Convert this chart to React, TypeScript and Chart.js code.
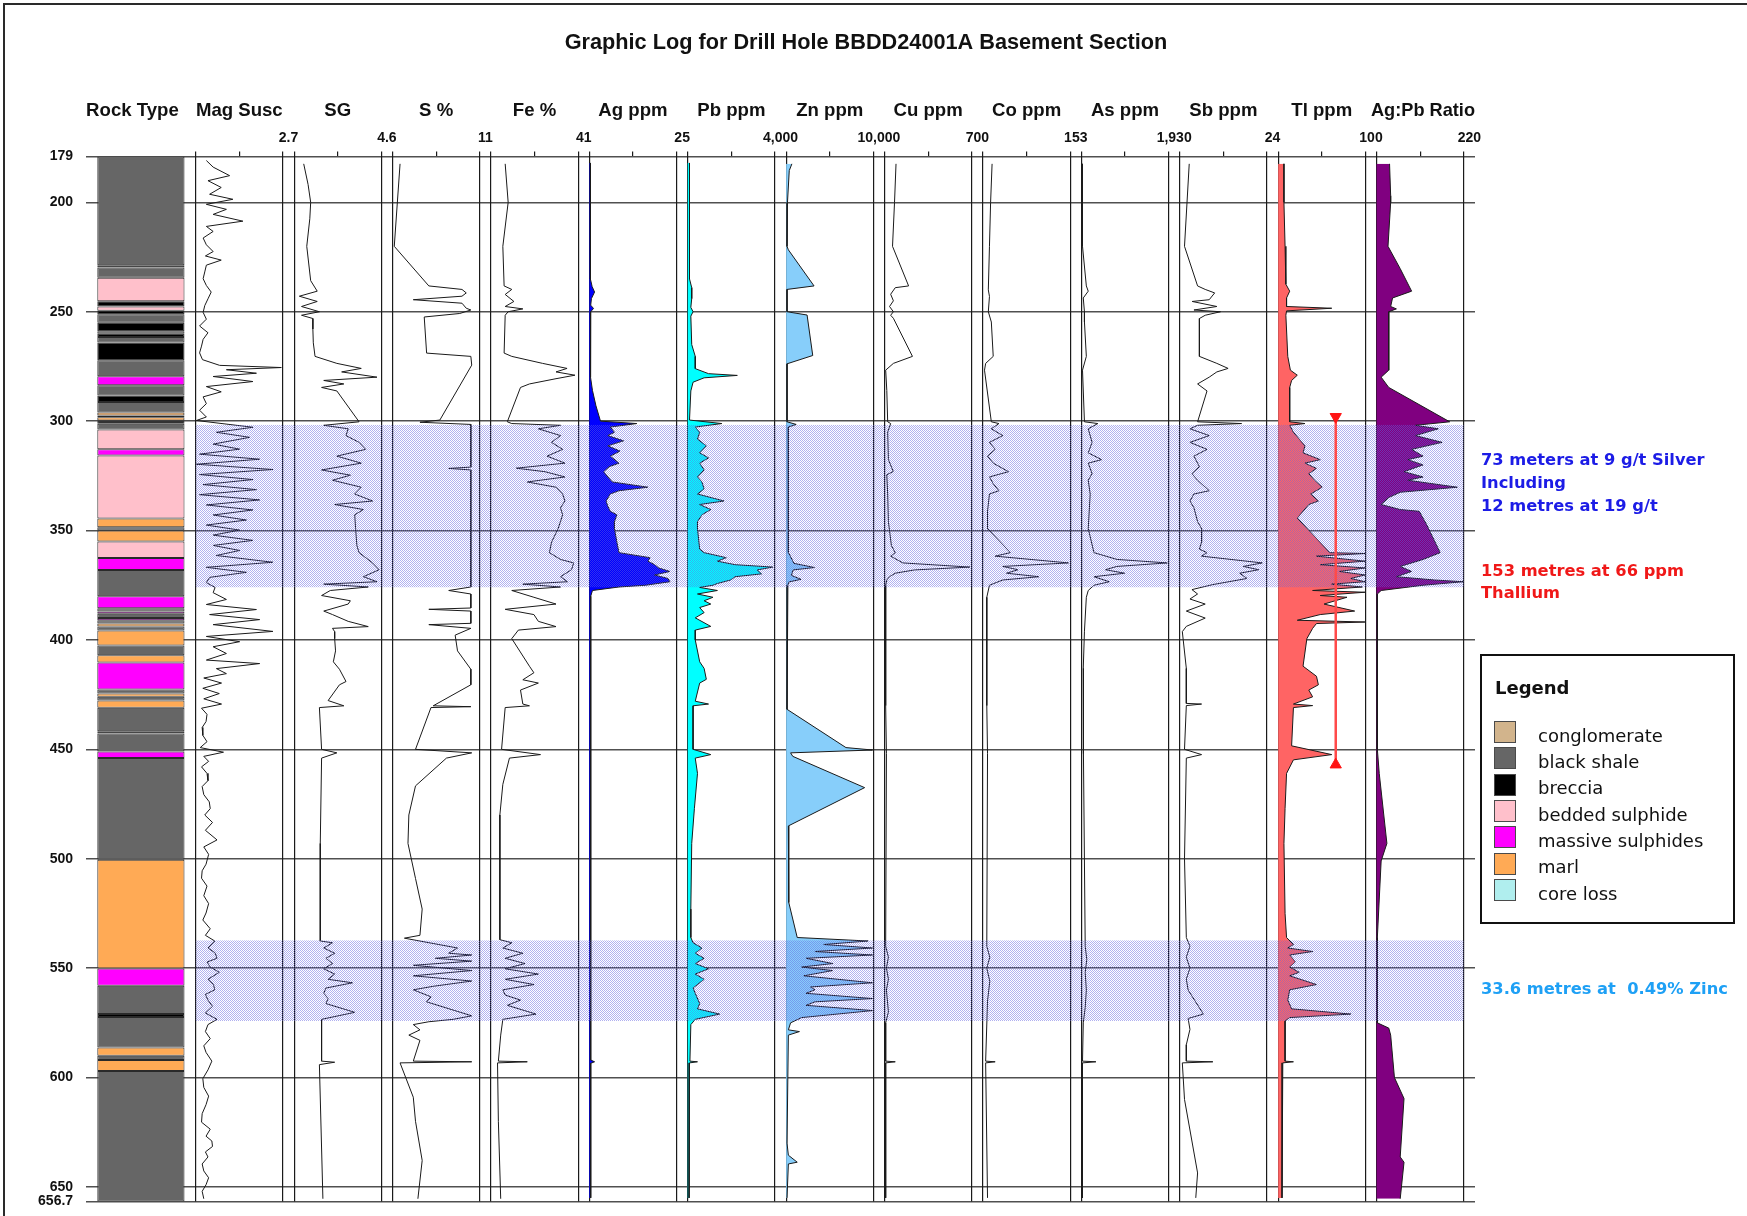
import React, { useEffect, useRef } from 'react';
import { Chart, registerables } from 'chart.js';

Chart.register(...registerables);

type Pair = [number, number];

// ---------------- depth axis ----------------
const DEPTH_TOP = 179;
const DEPTH_BOTTOM = 656.7;
const DEPTH_TICKS = [179, 200, 250, 300, 350, 400, 450, 500, 550, 600, 650, 656.7];

const CHART_TITLE = 'Graphic Log for Drill Hole BBDD24001A Basement Section';

// ---------------- track definitions ----------------
const TRACK_IDS = ['magSusc', 'sg', 'sPct', 'fePct', 'agPpm', 'pbPpm', 'znPpm', 'cuPpm', 'coPpm', 'asPpm', 'sbPpm', 'tlPpm', 'agPbRatio'];
const TRACK_TITLES = ['Mag Susc', 'SG', 'S %', 'Fe %', 'Ag ppm', 'Pb ppm', 'Zn ppm', 'Cu ppm', 'Co ppm', 'As ppm', 'Sb ppm', 'Tl ppm', 'Ag:Pb Ratio'];
const TRACK_MIN = [0, 2.6, 0, 0, 0, 0, 0, 0, 0, 0, 0, 0, 0];
const TRACK_MAX = [2.7, 4.6, 11, 41, 25, 4000, 10000, 700, 153, 1930, 24, 100, 220];
const TRACK_TICK_LABELS = ['2.7', '4.6', '11', '41', '25', '4,000', '10,000', '700', '153', '1,930', '24', '100', '220'];

// ---------------- rock types (depth intervals) ----------------
const ROCK_NAMES = ['conglomerate', 'black shale', 'breccia', 'bedded sulphide', 'massive sulphides', 'marl', 'core loss'];
const CONGLOMERATE: Pair[] = [];
const BLACK_SHALE: Pair[] = [[179, 228.8], [229.8, 234.5], [251.2, 255], [258.9, 260], [261.5, 264], [272.2, 279.5], [283.6, 288.3], [291.2, 296], [297.4, 298.2], [301.2, 303.8], [348.5, 350], [368, 380], [385.5, 387], [388, 390], [391, 392.5], [393.8, 395.7], [402.5, 407], [422.6, 424.5], [426, 427.7], [431, 441.7], [442.8, 451], [454, 500.5], [558, 571], [572.3, 586.3], [590, 592], [597, 656.7]];
const BRECCIA: Pair[] = [[228.8, 229.8], [245.2, 247.6], [249.5, 251.2], [255, 258.9], [260, 261.5], [264, 272.2], [288.3, 291.2], [299.7, 301.2], [441.7, 442.8], [571, 572.3]];
const BEDDED_SULPHIDE: Pair[] = [[234.5, 245.2], [247.6, 249.5], [303.8, 312.9], [315.7, 344.5], [355, 362.5]];
const MASSIVE_SULPHIDES: Pair[] = [[279.5, 283.6], [312.9, 315.7], [362.5, 368], [380, 385.5], [387, 388], [390, 391], [410.3, 422.6], [451, 454], [550.2, 558]];
const MARL: Pair[] = [[296, 297.4], [298.2, 299.7], [344.5, 348.5], [350, 355], [392.5, 393.8], [395.7, 402.5], [407, 410.3], [424.5, 426], [427.7, 431], [500.5, 550.2], [586.3, 590], [592, 597]];
const CORE_LOSS: Pair[] = [];

// ---------------- mineralised zones ----------------
const SILVER_ZONE: Pair = [301.6, 376];
const ZINC_ZONE: Pair = [537.3, 574.2];
const TL_ZONE: Pair = [298, 457];
const TL_ZONE_GRADE = 66;
const SILVER_NOTE = ['73 meters at 9 g/t Silver', 'Including', '12 metres at 19 g/t'];
const TL_NOTE = ['153 metres at 66 ppm', 'Thallium'];
const ZINC_NOTE = ['33.6 metres at  0.49% Zinc'];

// ---------------- series: [depth, value] ----------------
const MAG_SUSC: Pair[] = [[180.9, 0.33], [183.9, 0.54], [187.8, 1.05], [190.1, 0.38], [193.2, 0.79], [196.3, 0.43], [198.6, 1.15], [200.9, 0.33], [203.2, 0.95], [205.5, 0.54], [208.6, 1.46], [211, 0.33], [213.3, 0.54], [216.3, 0.23], [219.4, 0.33], [222.5, 0.54], [224.5, 0.3], [226.4, 0.79], [228.7, 0.33], [231.8, 0.28], [234.9, 0.23], [238, 0.33], [241, 0.48], [244.1, 0.38], [247.2, 0.28], [250.3, 0.23], [253.4, 0.33], [256.5, 0.12], [259.6, 0.38], [262.6, 0.23], [265.7, 0.18], [268.8, 0.12], [271.9, 0.21], [274.5, 0.74], [275.5, 2.65], [276.5, 0.95], [278.1, 1.88], [279.6, 0.54], [281.9, 1.77], [284.2, 0.33], [286.6, 0.79], [288.9, 0.23], [292, 0.33], [295, 0.12], [298.1, 0.33], [299.7, 0.02], [302.8, 1.77], [305.1, 0.64], [307.4, 1.67], [310.5, 0.54], [312.8, 1.36], [315.1, 0.12], [317.4, 1.98], [319.7, 0.02], [322.1, 2.39], [324.4, 0.12], [326.7, 1.77], [329, 0.23], [331.3, 1.88], [333.6, 0.12], [336, 1.98], [338.3, 0.33], [340.6, 1.77], [342.9, 0.54], [345.2, 1.57], [347.5, 0.33], [349.8, 1.36], [352.1, 0.54], [354.5, 1.77], [356.8, 0.54], [359.1, 1.36], [361.4, 0.64], [364.5, 2.39], [366.8, 0.33], [369.1, 1.57], [371.4, 0.43], [373.8, 0.33], [376, 0.6], [378.4, 0.54], [381.5, 0.95], [383.8, 0.33], [386.1, 1.88], [388.4, 0.43], [390.7, 1.98], [393, 0.54], [396.1, 2.39], [398.4, 0.33], [400.8, 1.36], [403.1, 0.54], [406.2, 0.95], [409.2, 0.33], [410.8, 1.98], [413.1, 0.64], [415.4, 0.95], [417.4, 0.25], [419.7, 0.8], [422.1, 0.22], [424.5, 0.73], [426.9, 0.25], [429.3, 0.8], [431.2, 0.18], [434, 0.35], [437.3, 0.32], [440, 0.2], [443.6, 0.22], [446.5, 0.35], [449.2, 0.14], [451.3, 0.86], [453.2, 0.25], [455.5, 0.4], [458, 0.18], [461, 0.35], [464.3, 0.38], [467, 0.2], [470.7, 0.25], [474, 0.42], [477.1, 0.45], [480, 0.28], [483.4, 0.52], [487, 0.3], [491.4, 0.66], [494.6, 0.25], [498, 0.4], [502.5, 0.32], [505.5, 0.2], [508.9, 0.18], [512.5, 0.35], [516.9, 0.25], [520.5, 0.4], [524.8, 0.32], [528, 0.22], [532, 0.45], [535, 0.3], [537.6, 0.59], [540.8, 0.38], [543, 0.6], [545.5, 0.66], [547.2, 0.35], [549.5, 0.45], [551.9, 0.73], [555.1, 0.38], [557.5, 0.55], [559.9, 0.59], [562, 0.3], [564.6, 0.38], [567.5, 0.52], [570.5, 0.3], [573.4, 0.66], [575.8, 0.38], [579, 0.3], [582.2, 0.45], [585.5, 0.25], [588.5, 0.32], [592.5, 0.5], [596.5, 0.38], [600.5, 0.22], [604.5, 0.25], [608.5, 0.4], [612.4, 0.32], [616.5, 0.2], [620.4, 0.18], [623.6, 0.45], [626.8, 0.32], [629, 0.5], [631.5, 0.52], [634, 0.3], [636.3, 0.38], [639.5, 0.2], [642.7, 0.25], [645.8, 0.4], [649, 0.32], [652, 0.2], [655.4, 0.25]];

const SG: Pair[] = [[182.4, 2.82], [191.8, 2.92], [200, 2.98], [207.5, 2.96], [220.1, 2.89], [235.8, 2.98], [240.6, 3.13], [242.9, 2.72], [245.3, 3.13], [247.6, 2.77], [250, 3.18], [251.6, 2.77], [253.1, 3.03], [257.9, 3.03], [264.2, 3.04], [270.4, 3.08], [273.6, 3.58], [275.9, 4.14], [277.5, 3.69], [279.9, 4.5], [281.4, 3.28], [283, 3.74], [284.6, 3.23], [286.2, 3.58], [300.3, 4.09], [301.9, 3.28], [303.5, 3.84], [306.6, 3.79], [309.7, 4.09], [312.9, 4.24], [316, 3.58], [319.2, 4.14], [322.3, 3.23], [324.7, 3.89], [327, 3.48], [330.2, 4.14], [333.3, 3.99], [336.5, 4.4], [338.1, 3.53], [340.4, 4.19], [342.8, 3.99], [349.1, 4.01], [356.9, 4.04], [360.1, 4.09], [364.8, 4.4], [367.9, 4.55], [371.1, 4.19], [373.4, 4.5], [374.5, 3.28], [375.8, 4.3], [377.4, 3.43], [379.7, 3.23], [382.1, 3.89], [383.6, 3.84], [386.8, 3.28], [388.4, 3.48], [391.5, 3.84], [393.9, 4.3], [394.7, 3.48], [396.2, 3.53], [399.4, 3.53], [405, 3.55], [410, 3.5], [413.4, 3.64], [419, 3.79], [420.5, 3.64], [427.7, 3.38], [430.1, 3.74], [430.9, 3.18], [450, 3.23], [451.6, 3.58], [454, 3.23], [493, 3.2], [537.6, 3.2], [538.4, 3.48], [540.8, 3.28], [543.2, 3.53], [545.5, 3.33], [547.9, 3.48], [550.3, 3.28], [552.7, 3.53], [555.1, 3.38], [556.7, 3.94], [559.1, 3.33], [561.5, 3.28], [563.9, 3.38], [566.2, 3.33], [570.2, 3.99], [573.4, 3.23], [592.5, 3.23], [593, 3.53], [594.1, 3.18], [655.4, 3.26]];

const S_PCT: Pair[] = [[182.4, 0.95], [220.1, 0.22], [238.2, 4.58], [239.8, 8.76], [241.4, 9.3], [242.9, 8.76], [244.5, 2.62], [246.1, 8.76], [248.4, 9.3], [249.2, 9.88], [250.8, 8.48], [252.4, 4.0], [268.9, 4.3], [270.4, 9.88], [274.4, 9.99], [299.5, 5.97], [300.5, 3.46], [301.5, 9.88], [321, 9.88], [321.6, 7.09], [322.3, 9.88], [375.8, 9.88], [377.4, 7.09], [379, 9.88], [385.4, 9.88], [386, 4.58], [386.8, 9.88], [392.4, 9.88], [393, 4.58], [394.7, 9.88], [397.8, 7.9], [405, 8.2], [413.4, 9.88], [420.5, 9.88], [430.1, 5.13], [430.5, 9.88], [430.9, 4.85], [450, 2.9], [451.6, 9.99], [454, 6.8], [466.7, 2.9], [480, 2.06], [493, 1.95], [509, 2.9], [523, 3.74], [535, 3.46], [536.3, 1.5], [540.8, 8.2], [543.2, 7.09], [544, 9.99], [545.5, 5.41], [546.8, 9.99], [548.7, 2.62], [551.1, 9.99], [553.5, 2.62], [555.9, 9.99], [558.3, 5.13], [559.9, 2.62], [563.1, 4.85], [565.4, 4.3], [571.8, 9.99], [573.4, 7.64], [574.5, 4.58], [575.8, 2.62], [578.2, 3.46], [580.6, 2.06], [583, 3.46], [592.5, 2.62], [592.8, 9.99], [593.3, 0.95], [609, 2.62], [620, 2.9], [637.9, 3.74], [655.4, 3.2]];

const FE_PCT: Pair[] = [[182.4, 6.7], [200, 8.1], [220.1, 5.6], [238.2, 6.2], [239.8, 9.8], [242.1, 6.7], [245.3, 10.8], [247.6, 6.7], [248.7, 15], [250, 8.1], [251.6, 6.7], [268.9, 6.2], [270.4, 9.8], [273.6, 24.3], [275.9, 35.8], [277.5, 30.6], [279, 39.5], [280.6, 30.6], [283, 18.1], [284.6, 13.9], [300.3, 7.7], [301.1, 9.8], [301.9, 32.7], [303.5, 22.3], [306.6, 32.7], [309.7, 28.5], [312.9, 33.7], [316, 26.4], [319.2, 34.8], [321.5, 11.9], [323.1, 25.4], [325.5, 34.8], [327.8, 17.1], [330.2, 30.6], [333.3, 33.7], [336.5, 34.8], [339.6, 32.7], [342.8, 33.7], [345.9, 32.7], [349.1, 31.6], [355.3, 28.5], [360.1, 27.5], [363.2, 32.7], [364.8, 38.9], [367.9, 37.9], [371.1, 32.7], [373.4, 36], [374.5, 15], [375.8, 32.7], [377.4, 9.8], [380.5, 20.2], [383.6, 30.6], [386, 6.7], [388.4, 20.2], [391.5, 22.3], [393.9, 30.6], [395.5, 12.9], [399.4, 9.8], [412, 18.1], [415, 20.2], [418.2, 15], [419.7, 22.3], [422.9, 13.9], [429.3, 15], [430.1, 18.1], [430.9, 6.7], [450, 5], [452.4, 23.3], [454, 8.7], [466, 5.6], [480, 4.2], [537, 4.2], [538.4, 9.8], [540.8, 5.6], [543.2, 15], [545.5, 6.7], [547.9, 16], [550.3, 6.7], [552.7, 22.3], [555.1, 6.7], [557.5, 20.2], [559.9, 5.6], [562.3, 6.7], [564.6, 13.9], [567, 7.7], [571, 21.2], [573.4, 5.6], [580.6, 4.6], [592.5, 3.5], [592.8, 17.1], [593.3, 3.1], [620, 3.5], [655.4, 4.6]];

const AG_PPM: Pair[] = [[182, 0.3], [235, 0.3], [238.5, 0.8], [241, 1.5], [244, 0.6], [247, 0.4], [248.5, 1.2], [250, 0.4], [270, 0.3], [280, 0.4], [286, 0.9], [293, 1.9], [300, 3.2], [301.1, 13.6], [302.7, 6], [305.1, 7.2], [306.6, 5.3], [309, 9.8], [311.3, 5.3], [313.7, 8.8], [316, 6], [319.2, 8.5], [320.8, 5.7], [323.1, 4.1], [325.5, 5.3], [327.8, 6.6], [330.2, 16.8], [331.8, 8.5], [333.3, 6], [336.5, 4.8], [338.9, 5.3], [341.2, 6], [342.8, 7.9], [346, 7.2], [349.1, 7.2], [355.3, 7.9], [360.1, 8.5], [362.4, 17.4], [364, 16.8], [365.6, 18.7], [367.1, 19.9], [368.7, 23.1], [370.3, 18.7], [371.9, 22.5], [373.4, 23.1], [375, 16.1], [375.8, 8.5], [377.4, 0.9], [380, 0.4], [592, 0.4], [592.8, 1.5], [593.5, 0.4], [655, 0.4]];

const PB_PPM: Pair[] = [[182, 81], [235, 81], [239, 183], [244, 183], [248, 142], [250, 244], [252, 142], [265, 183], [270.4, 345], [276, 345], [278.3, 954], [279.1, 2274], [280.2, 751], [282.2, 244], [286.2, 142], [299.5, 81], [301.1, 1563], [302.7, 345], [305.1, 548], [308.2, 447], [311.3, 853], [314.5, 548], [316.8, 954], [319.2, 548], [322.3, 751], [325.5, 447], [327.8, 650], [331, 751], [333.3, 447], [336.5, 1665], [338.1, 548], [340.4, 1056], [342.8, 650], [346, 447], [349.1, 447], [358.5, 548], [360.1, 751], [362.4, 1766], [364, 1360], [365.6, 2172], [366.7, 3898], [368, 3187], [369.8, 3390], [371.1, 2172], [372.6, 1969], [374.2, 1360], [375, 1157], [376, 548], [377.4, 1360], [379, 447], [380.5, 1157], [382.1, 751], [383.6, 1056], [385.2, 548], [387.5, 751], [389.9, 345], [393.8, 1056], [395.5, 345], [400, 345], [410, 548], [413, 751], [418, 853], [419.7, 548], [428, 345], [429.3, 954], [430.1, 244], [450, 244], [452.4, 1056], [454, 345], [461, 447], [477, 305], [493, 183], [523, 142], [536, 142], [538.4, 244], [540.8, 650], [543.2, 345], [545.5, 751], [547.9, 345], [550.3, 954], [552.7, 345], [555.1, 751], [557.5, 447], [559, 244], [561.5, 345], [566.2, 548], [568.6, 447], [571, 1462], [573.4, 345], [575.8, 142], [592.5, 100], [592.8, 447], [593.3, 81], [655, 61]];

const ZN_PPM: Pair[] = [[182.4, 660], [185.5, 356], [200, 152], [220.1, 100], [221.7, 254], [238.2, 3200], [239.8, 100], [250, 100], [251.5, 2400], [270, 3050], [273.8, 100], [300.3, 100], [301.5, 1150], [302.7, 254], [360, 254], [365, 900], [366.9, 3240], [368, 800], [370.5, 600], [372.3, 1700], [373.5, 300], [375, 200], [413, 100], [431.7, 100], [449.2, 6858], [450.3, 9900], [451.6, 508], [453.2, 762], [467.5, 9000], [485, 254], [520, 300], [536, 1270], [537.6, 9400], [539.2, 4318], [540.8, 9900], [542.4, 3302], [544, 9900], [545.5, 2286], [547.9, 5334], [549.5, 1778], [551.1, 5334], [553.5, 2032], [556.7, 9900], [558.6, 2794], [559.9, 3302], [561.5, 2286], [563.9, 9900], [565.4, 3302], [567, 2286], [569.4, 9900], [572.6, 1778], [575, 508], [578.2, 254], [579, 1524], [580.6, 254], [630, 100], [635.5, 254], [638.7, 1270], [639.5, 254], [655, 100]];

const CU_PPM: Pair[] = [[182.4, 92], [200, 80], [220.1, 64], [238.2, 193], [239, 86], [242, 49], [245, 71], [247.6, 40], [250, 71], [251.6, 49], [253, 71], [254.7, 86], [270.4, 224], [273.6, 71], [276.7, 9], [286, 18], [300.3, 25], [301.1, 49], [305, 25], [317.6, 31], [323, 70], [324.5, 18], [333.3, 25], [346, 31], [356.9, 55], [360.1, 86], [361.7, 49], [364.8, 147], [366.7, 685], [368, 240], [369.5, 86], [371.1, 40], [372.6, 18], [375, 9], [400, 9], [430, 9], [452, 15], [540, 9], [545, 31], [550, 15], [555, 31], [560, 15], [570, 31], [575, 9], [592.5, 9], [592.8, 86], [593.3, 9], [655, 9]];

const CO_PPM: Pair[] = [[182.4, 16], [200, 13.4], [220.1, 11.4], [240, 9.4], [243, 11.4], [250, 9.4], [254.7, 14.7], [270.4, 18], [273.6, 4.7], [276.7, 2.7], [300.3, 14.7], [301.1, 28], [303.5, 14.7], [306.6, 34.7], [309.7, 11.4], [312.9, 21.4], [316, 8], [319.2, 18], [323.1, 44.8], [325.5, 11.4], [328.6, 18], [331.8, 28], [333.3, 11.4], [341.2, 8], [349.1, 8], [360.1, 48.1], [361.7, 21.4], [364.8, 150], [366.4, 34.7], [367.9, 61.5], [369.5, 41.4], [371.1, 98.2], [372.6, 34.7], [375, 11.4], [380.5, 6.7], [413, 6.7], [430, 6.7], [452, 8], [540, 6.7], [545, 12], [550, 6.7], [556, 12], [565, 8], [592.5, 4.7], [592.8, 21.4], [593.3, 4.7], [655, 8]];

const AS_PPM: Pair[] = [[182.4, 17], [220.1, 25], [238.2, 110], [240.6, 152], [243.7, 42], [250, 68], [254.7, 68], [270.4, 110], [276.7, 25], [300.3, 68], [301.1, 364], [303.5, 152], [309.7, 237], [314.5, 152], [317.6, 448], [319.2, 152], [324, 237], [327, 152], [333.3, 195], [339.6, 178], [349.1, 152], [360.1, 279], [363.2, 787], [364.8, 1900], [366.4, 787], [367.9, 533], [369.5, 956], [371.1, 279], [373.4, 617], [375, 279], [377.4, 152], [380.5, 110], [396, 68], [413, 42], [430, 42], [452, 50], [540, 85], [546, 120], [552, 85], [560, 110], [568, 85], [575, 42], [592.5, 25], [592.8, 321], [593.3, 25], [655, 25]];

const SB_PPM: Pair[] = [[182.4, 2.6], [220.1, 1.3], [238.2, 4.9], [239.8, 7], [241.4, 9.6], [244.5, 8.1], [245.3, 3.4], [247.6, 10.2], [249.2, 3.9], [250, 11.2], [251.6, 7], [253.1, 5.4], [270.4, 5.4], [273.6, 10.2], [275.9, 13.3], [277.5, 10.2], [279.9, 8.1], [283, 4.9], [286.2, 7.5], [300.3, 4.9], [301.1, 17], [301.9, 4.9], [303.5, 2.8], [306.6, 8.1], [309.7, 2.8], [312.9, 7.5], [316, 3.9], [320.8, 5.4], [324, 3.35], [327, 4.9], [331.8, 8.1], [333.3, 3.9], [336.5, 2.8], [339.6, 3.9], [345.9, 4.9], [349.1, 6], [355.3, 6], [358.5, 5.4], [360.1, 7.5], [361.7, 6], [364.8, 22.7], [366.4, 17.5], [367.9, 21.7], [369.5, 16.5], [371.9, 18.5], [374.7, 9.1], [377, 3.35], [379, 4.9], [381.3, 2.8], [383.6, 7], [386.8, 1.8], [390, 7], [393.8, 1.8], [396.2, 0.7], [413, 1.8], [429, 1.8], [429.3, 6], [430, 1.8], [450, 1.3], [452.4, 6], [454, 1.8], [500, 1.3], [536, 1.8], [540, 2.8], [545, 1.8], [550, 2.8], [555, 1.8], [560, 2.3], [571, 6.5], [573, 2.3], [578, 2.8], [585, 1.8], [592.5, 1.8], [592.8, 9.1], [593.3, 0.7], [610, 1.3], [643.6, 4.9], [655, 4.4]];

const TL_PPM: Pair[] = [[182.4, 6.6], [200, 6.6], [220.1, 7.9], [237.4, 8.8], [240.6, 13.2], [243.7, 9.6], [247.6, 9.6], [248.4, 61.4], [249.6, 9.6], [251.6, 8.8], [270.4, 11], [276.7, 14], [279, 21.9], [281.4, 15.4], [284.6, 13.2], [300.3, 13.2], [301.1, 30.7], [301.9, 13.2], [305.1, 17.5], [308.2, 24.1], [311.3, 30.7], [314.5, 28.5], [317.6, 48.2], [319.2, 30.7], [321.6, 43.9], [324, 35.1], [327, 41.7], [330.2, 50.4], [333.3, 37.3], [336.5, 46.1], [338.1, 35.1], [344.3, 21.9], [360.1, 59.2], [360.5, 99.5], [361.7, 43.9], [364, 99.5], [365.6, 48.2], [367.1, 99.5], [368.7, 70.2], [370.3, 99.5], [371.9, 83.3], [373.4, 99.5], [374.5, 61.4], [375.8, 96.5], [377.4, 39.5], [378.2, 99.5], [379.7, 48.2], [380.5, 78.9], [383.6, 52.6], [386.8, 87.7], [388.4, 48.2], [391, 21.9], [391.8, 99.5], [392.5, 43.9], [394.7, 39.5], [399.4, 32.9], [412, 28.5], [416.6, 43.9], [420.5, 46.1], [422.9, 35.1], [426, 39.5], [429.3, 17.5], [430, 39.5], [430.9, 17.5], [448.4, 15.4], [452.4, 61.4], [454.8, 17.5], [461, 9.6], [477, 7.9], [493, 6.6], [525, 7.9], [536, 9.6], [539.2, 17.5], [540.8, 11], [542.4, 39.5], [544, 13.2], [547.1, 19.7], [549.5, 13.2], [551.9, 24.1], [553.5, 13.2], [557.5, 43.9], [559.9, 13.2], [564.6, 11], [568.6, 15.4], [571, 83.3], [572.6, 13.2], [574.2, 7.9], [592.5, 7.9], [592.8, 17.5], [593.3, 5.3], [620, 4.4], [655, 4.4]];

const AG_PB_RATIO: Pair[] = [[182.4, 32.7], [197, 35.5], [200, 35.5], [220.1, 28.8], [230.3, 59.6], [240.6, 88.4], [243.7, 40.3], [247.6, 35.5], [248.7, 50], [250, 30.7], [276.7, 30.7], [279.9, 11.5], [284.6, 30.7], [300.3, 184.5], [301.9, 98], [303.5, 155.6], [306.6, 98], [309.7, 165.2], [312.9, 88.4], [316, 117.2], [317.6, 78.8], [320, 117.2], [323.1, 69.2], [325.5, 117.2], [327, 78.8], [330.2, 203.7], [332.5, 59.6], [334.9, 30.7], [338.1, 11.5], [340.4, 59.6], [341.2, 107.6], [347.5, 126.8], [360.1, 160.4], [363.2, 117.2], [366.4, 59.6], [368.7, 88.4], [371.1, 50], [372.6, 146], [373.4, 218], [375, 117.2], [377.4, 11.5], [379, 1.9], [450, 1.9], [461, 6.7], [493, 26], [501, 11.5], [536, 1.9], [575, 1.9], [577.4, 30.7], [580.6, 35.5], [600, 45], [609.6, 69.2], [636.3, 59.6], [638.7, 69.2], [655.4, 59.6]];

const TRACK_SERIES = [MAG_SUSC, SG, S_PCT, FE_PCT, AG_PPM, PB_PPM, ZN_PPM, CU_PPM, CO_PPM, AS_PPM, SB_PPM, TL_PPM, AG_PB_RATIO];
const ROCK_INTERVALS = [CONGLOMERATE, BLACK_SHALE, BRECCIA, BEDDED_SULPHIDE, MASSIVE_SULPHIDES, MARL, CORE_LOSS];

// ---------------- styles / layout ----------------
const FONT = "'Liberation Sans', Arial, Helvetica, sans-serif";
const NOTE_FONT = "'DejaVu Sans', Verdana, sans-serif";
const ROCK_COLORS = ['#d2b48c', '#666666', '#000000', '#ffc0cb', '#ff00ff', '#ffaa55', '#b0eeee'];
const TRACK_FILLS: (string | null)[] = [null, null, null, null, '#0000ff', '#00ffff', '#87cefa', null, null, null, null, '#ff6464', '#800080'];
const W = 1747;
const H = 1216;
const GAP = 11.2;
const TRACK = 87.2;
const Y_AXIS_W = 86.1;
const RIGHT_W = 257;
const PAD_RIGHT = 15;
const PAD_BOTTOM = 14.4;
const TITLE_SIZE = 21.7;
const TITLE_PAD_TOP = 30;
const HEADER_SIZE = 18.6;
const PLOT_TOP = 156.4;
const HEADER_MID = 111;
const TITLE_BOX_H = TITLE_PAD_TOP + TITLE_SIZE * 1.2;
const AXIS_H = PLOT_TOP - TITLE_BOX_H;
const HEADER_PAD = HEADER_MID - TITLE_BOX_H - (HEADER_SIZE * 1.2) / 2;
const PLOT_W = 15 * GAP + 14 * TRACK;
const ROCK_AXIS_W = GAP + TRACK + GAP / 2;

export default function App() {
  const canvasRef = useRef<HTMLCanvasElement | null>(null);

  useEffect(() => {
    const canvas = canvasRef.current;
    if (!canvas) return;
    const ctx = canvas.getContext('2d');
    if (!ctx) return;

    const pc = document.createElement('canvas');
    pc.width = 2;
    pc.height = 2;
    const pctx = pc.getContext('2d')!;
    pctx.fillStyle = 'rgba(100,100,225,0.5)';
    pctx.fillRect(0, 0, 1, 1);
    pctx.fillRect(1, 1, 1, 1);
    const stipple = ctx.createPattern(pc, 'repeat');

    const tickFont = { family: FONT, size: 14, weight: 'bold' as const };
    const titleFont = { family: FONT, size: HEADER_SIZE, weight: 'bold' as const };
    const noPad = (s: any) => { s.paddingLeft = 0; s.paddingRight = 0; s.paddingTop = 0; s.paddingBottom = 0; };

    const scales: any = {
      y: {
        type: 'linear', position: 'left', reverse: true, min: DEPTH_TOP, max: DEPTH_BOTTOM,
        afterBuildTicks: (s: any) => { s.ticks = DEPTH_TICKS.map((v) => ({ value: v })); },
        afterFit: (s: any) => { s.width = Y_AXIS_W; noPad(s); },
        ticks: { autoSkip: false, padding: 13, color: '#111', font: tickFont, callback: (v: any) => String(v) },
        grid: { color: '#505050', lineWidth: 1.5, drawTicks: false },
        border: { display: false },
      },
      yRight: {
        type: 'linear', position: 'right', axis: 'y',
        ticks: { display: false }, grid: { display: false }, border: { display: false },
        afterFit: (s: any) => { s.width = RIGHT_W; noPad(s); },
      },
      zone: { type: 'linear', position: 'top', axis: 'x', display: false, min: 0, max: PLOT_W, weight: 1000 },
      rock: {
        type: 'linear', position: 'top', axis: 'x', stack: 'tracks', stackWeight: ROCK_AXIS_W, weight: 100,
        min: 0, max: 1, offset: false,
        afterBuildTicks: (s: any) => { s.ticks = [{ value: 0 }, { value: 1 }]; },
        afterFit: (s: any) => { s.height = AXIS_H; noPad(s); },
        ticks: { display: false }, grid: { display: false, offset: false }, border: { display: false },
        title: { display: true, text: 'Rock Type', align: 'start', color: '#111', font: titleFont, padding: { top: HEADER_PAD, bottom: 0 } },
      },
    };

    TRACK_IDS.forEach((id, i) => {
      const last = i === TRACK_IDS.length - 1;
      const lo = TRACK_MIN[i];
      const hi = TRACK_MAX[i];
      const r = hi - lo;
      const padL = GAP / 2;
      const padR = last ? GAP : GAP / 2;
      scales[id] = {
        type: 'linear', position: 'top', axis: 'x', stack: 'tracks',
        stackWeight: padL + TRACK + padR, weight: 99 - i,
        min: lo - (padL / TRACK) * r, max: hi + (padR / TRACK) * r, offset: false,
        afterBuildTicks: (s: any) => { s.ticks = [lo, (lo + hi) / 2, hi].map((v) => ({ value: v })); },
        afterFit: (s: any) => { s.height = AXIS_H; noPad(s); },
        ticks: {
          autoSkip: false, maxRotation: 0, minRotation: 0, padding: 4.7, labelOffset: GAP / 2,
          color: '#111', font: tickFont,
          callback: (_v: any, idx: number) => (idx === 2 ? TRACK_TICK_LABELS[i] : ''),
        },
        grid: {
          color: (c: any) => (c.index === 1 ? 'rgba(0,0,0,0)' : '#1a1a1a'),
          tickColor: '#1a1a1a', tickLength: 5, lineWidth: 1.2,
        },
        border: { display: false },
        title: { display: true, text: TRACK_TITLES[i], color: '#111', font: titleFont, padding: { top: HEADER_PAD, bottom: 0 } },
      };
    });

    const datasets: any[] = [];

    ROCK_INTERVALS.forEach((ints, k) => {
      if (!ints.length) return;
      datasets.push({
        type: 'bar', label: ROCK_NAMES[k],
        data: ints.map(([a, b]) => ({ x: (GAP + TRACK / 2) / ROCK_AXIS_W, y: [a, b] })),
        xAxisID: 'rock', yAxisID: 'y',
        backgroundColor: ROCK_COLORS[k], borderColor: '#2a2a2a', borderWidth: 1, borderSkipped: false,
        barPercentage: TRACK / ROCK_AXIS_W, categoryPercentage: 1, grouped: false, order: 2,
      });
    });

    TRACK_SERIES.forEach((series, i) => {
      const fillColor = TRACK_FILLS[i];
      datasets.push({
        type: 'line', label: TRACK_TITLES[i],
        data: series.map(([d, v]) => ({ x: v, y: d })),
        xAxisID: TRACK_IDS[i], yAxisID: 'y', indexAxis: 'y',
        borderColor: '#1a1a1a', borderWidth: 1, pointRadius: 0, pointHoverRadius: 0, tension: 0,
        fill: fillColor ? { value: TRACK_MIN[i] } : false,
        backgroundColor: fillColor || 'rgba(0,0,0,0)',
        order: 2,
      });
    });

    const zoneLeft = ROCK_AXIS_W + GAP / 2;
    const zoneRight = PLOT_W - GAP;
    [SILVER_ZONE, ZINC_ZONE].forEach((z, k) => {
      datasets.push({
        type: 'line', label: k === 0 ? 'silver zone' : 'zinc zone',
        data: [{ x: zoneRight, y: z[0] }, { x: zoneRight, y: z[1] }],
        xAxisID: 'zone', yAxisID: 'y', indexAxis: 'y',
        borderWidth: 0, borderColor: 'rgba(0,0,0,0)', pointRadius: 0,
        fill: { value: zoneLeft }, backgroundColor: stipple, order: 1,
      });
    });

    datasets.push({
      type: 'line', label: 'Tl interval',
      data: [{ x: TL_ZONE_GRADE, y: TL_ZONE[0] }, { x: TL_ZONE_GRADE, y: TL_ZONE[1] }],
      xAxisID: 'tlPpm', yAxisID: 'y', indexAxis: 'y',
      borderColor: '#ff4a4a', borderWidth: 2.5, fill: false,
      pointStyle: 'triangle', pointRadius: 6.5,
      pointRotation: (c: any) => (c.dataIndex === 0 ? 180 : 0),
      pointBackgroundColor: '#ff1414', pointBorderColor: '#ff1414', pointBorderWidth: 1,
      order: 0,
    });

    const chart = new Chart(canvas, {
      type: 'line',
      data: { datasets },
      options: {
        animation: false,
        responsive: false,
        devicePixelRatio: 1,
        events: [],
        layout: { padding: { left: 0, right: PAD_RIGHT, top: 0, bottom: PAD_BOTTOM } },
        plugins: {
          legend: { display: false },
          tooltip: { enabled: false },
          title: {
            display: true, text: CHART_TITLE, color: '#111',
            font: { family: FONT, size: TITLE_SIZE, weight: 'bold' },
            padding: { top: TITLE_PAD_TOP, bottom: 0 },
          },
        },
        scales,
      } as any,
    });
    return () => chart.destroy();
  }, []);

  const abs = { position: 'absolute' as const };

  return (
    <div style={{ ...abs, left: 0, top: 0, width: W, height: H, background: '#fff', overflow: 'hidden' }}>
      <canvas ref={canvasRef} width={W} height={H} style={{ ...abs, left: 0, top: 0, width: W, height: H }} />
      <div style={{ ...abs, left: 3, top: 3, width: W, height: H, borderLeft: '2px solid #2a2a2a', borderTop: '2px solid #2a2a2a', pointerEvents: 'none' }} />

      <div style={{ ...abs, left: 1481, top: 447.6, font: `bold 16.3px ${NOTE_FONT}`, lineHeight: '23.4px', color: '#1c1ce6', whiteSpace: 'pre' }}>
        {SILVER_NOTE.map((t) => <div key={t}>{t}</div>)}
      </div>
      <div style={{ ...abs, left: 1481, top: 560.2, font: `bold 16.3px ${NOTE_FONT}`, lineHeight: '22.3px', color: '#f01818', whiteSpace: 'pre' }}>
        {TL_NOTE.map((t) => <div key={t}>{t}</div>)}
      </div>
      <div style={{ ...abs, left: 1481, top: 976.9, font: `bold 16.3px ${NOTE_FONT}`, lineHeight: '23.4px', color: '#1ea0f5', whiteSpace: 'pre' }}>
        {ZINC_NOTE.map((t) => <div key={t}>{t}</div>)}
      </div>

      <div style={{ ...abs, left: 1480, top: 654, width: 255, height: 270, border: '2px solid #111', boxSizing: 'border-box' }} />
      <div style={{ ...abs, left: 1495, top: 678.4, font: `bold 18px ${NOTE_FONT}`, lineHeight: '20px', color: '#111' }}>Legend</div>
      {ROCK_NAMES.map((name, i) => (
        <React.Fragment key={name}>
          <div style={{ ...abs, left: 1494, top: 721 + 26.3 * i, width: 22, height: 22, background: ROCK_COLORS[i], border: '1px solid #4a4a4a', boxSizing: 'border-box' }} />
          <div style={{ ...abs, left: 1538, top: 722.8 + 26.3 * i, font: `18px ${NOTE_FONT}`, lineHeight: '26px', color: '#111', whiteSpace: 'pre' }}>{name}</div>
        </React.Fragment>
      ))}
    </div>
  );
}
